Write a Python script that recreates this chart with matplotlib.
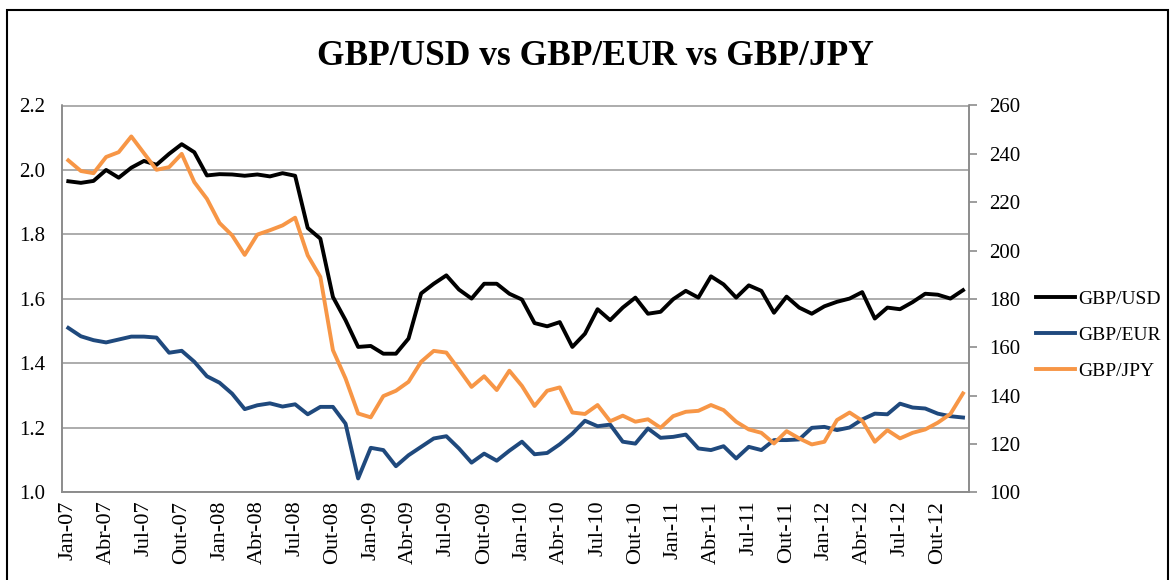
import matplotlib
matplotlib.use("Agg")
import matplotlib.pyplot as plt
from matplotlib.patches import Rectangle

# monthly series, Jan-07 .. Dez-12 (72 months)
usd = [1.965, 1.960, 1.966, 2.000, 1.976, 2.007, 2.028, 2.016, 2.050, 2.080, 2.055, 1.983,
       1.987, 1.986, 1.982, 1.986, 1.980, 1.990, 1.982, 1.820, 1.787, 1.606, 1.534, 1.451,
       1.454, 1.430, 1.430, 1.477, 1.617, 1.647, 1.673, 1.629, 1.601, 1.647, 1.647, 1.616,
       1.598, 1.525, 1.515, 1.528, 1.451, 1.492, 1.568, 1.534, 1.573, 1.604, 1.554, 1.560,
       1.599, 1.625, 1.604, 1.670, 1.645, 1.604, 1.642, 1.625, 1.557, 1.607, 1.573, 1.554,
       1.577, 1.591, 1.601, 1.621, 1.539, 1.573, 1.568, 1.590, 1.616, 1.613, 1.601, 1.627]
eur = [1.510, 1.484, 1.472, 1.465, 1.474, 1.483, 1.483, 1.480, 1.433, 1.439, 1.405, 1.360,
       1.340, 1.306, 1.258, 1.270, 1.276, 1.266, 1.273, 1.242, 1.265, 1.265, 1.213, 1.043,
       1.138, 1.131, 1.081, 1.115, 1.141, 1.167, 1.174, 1.136, 1.092, 1.120, 1.098, 1.129,
       1.157, 1.118, 1.122, 1.149, 1.182, 1.222, 1.205, 1.210, 1.157, 1.151, 1.198, 1.169,
       1.172, 1.179, 1.136, 1.131, 1.143, 1.105, 1.141, 1.131, 1.162, 1.162, 1.164, 1.200,
       1.203, 1.193, 1.201, 1.226, 1.244, 1.242, 1.275, 1.263, 1.260, 1.244, 1.236, 1.232]
jpy = [237.3, 232.9, 232.0, 238.7, 240.7, 247.2, 240.3, 233.4, 234.5, 240.0, 228.3, 221.4,
       211.4, 206.3, 198.2, 206.6, 208.4, 210.4, 213.6, 198.0, 189.1, 158.8, 147.1, 132.6,
       131.0, 139.8, 142.0, 145.7, 154.0, 158.5, 157.8, 150.8, 143.6, 148.0, 142.3, 150.3,
       144.0, 135.7, 142.0, 143.4, 133.0, 132.4, 136.1, 129.4, 131.7, 129.2, 130.2, 126.7,
       131.5, 133.3, 133.7, 136.1, 134.0, 129.2, 126.0, 124.6, 120.2, 125.3, 122.3, 119.8,
       120.9, 129.9, 133.0, 129.6, 120.9, 125.7, 122.3, 124.6, 126.0, 128.8, 132.4, 140.9]

months_pt = ["Jan", "Fev", "Mar", "Abr", "Mai", "Jun", "Jul", "Ago", "Set", "Out", "Nov", "Dez"]
labels = [f"{m}-{y:02d}" for y in range(7, 13) for m in months_pt]

plt.rcParams["font.family"] = ["Liberation Serif", "DejaVu Serif"]

fig = plt.figure(figsize=(11.74, 5.80), dpi=100)
ax = fig.add_axes([62 / 1174, 1 - 492.3 / 580, 907.3 / 1174, 386.8 / 580])
ax2 = ax.twinx()

x = list(range(len(labels)))
l1, = ax.plot(x, usd, color="black", lw=2.8, solid_joinstyle="round", label="GBP/USD", zorder=3)
l2, = ax.plot(x, eur, color="#1F497D", lw=2.8, solid_joinstyle="round", label="GBP/EUR", zorder=3)
l3, = ax2.plot(x, jpy, color="#F79646", lw=2.8, solid_joinstyle="round", label="GBP/JPY", zorder=3)

ax.set_xlim(-0.5, len(labels) - 0.5)
ax.set_ylim(1.0, 2.2)
ax2.set_ylim(100, 260)
ax.set_yticks([1.0, 1.2, 1.4, 1.6, 1.8, 2.0, 2.2])
ax.set_yticklabels([f"{v:.1f}" for v in [1.0, 1.2, 1.4, 1.6, 1.8, 2.0, 2.2]])
ax2.set_yticks(range(100, 261, 20))
ax.set_xticks(x[::3])
ax.set_xticklabels(labels[::3], rotation=90, fontsize=16)

ax.grid(axis="y", color="#A6A6A6", lw=1.3)
ax.set_axisbelow(True)
for a in (ax, ax2):
    for s in a.spines.values():
        s.set_color("#8C8C8C")
        s.set_linewidth(1.2)
    a.spines["top"].set_visible(False)
ax.tick_params(axis="y", labelsize=15, length=0, pad=12)
ax.tick_params(axis="x", length=0, pad=6)
ax2.tick_params(axis="y", labelsize=15, length=6, width=1.2, color="#8C8C8C", direction="out", pad=8)

fig.text(0.507, 0.902, "GBP/USD vs GBP/EUR vs GBP/JPY", ha="center", va="center",
         fontsize=25.5, fontweight="bold")

fig.legend(handles=[l1, l2, l3], loc="center left", bbox_to_anchor=(1036 / 1174, 1 - 335 / 580),
           frameon=False, fontsize=14, handlelength=2.0, handletextpad=0.15,
           labelspacing=0.95, borderpad=0, borderaxespad=0)

fig.patches.append(Rectangle((7 / 1174, -0.05), 1161 / 1174, 1.05 - 10 / 580, transform=fig.transFigure,
                             fill=False, edgecolor="black", lw=1.5))

fig.savefig("out.png", dpi=100)
